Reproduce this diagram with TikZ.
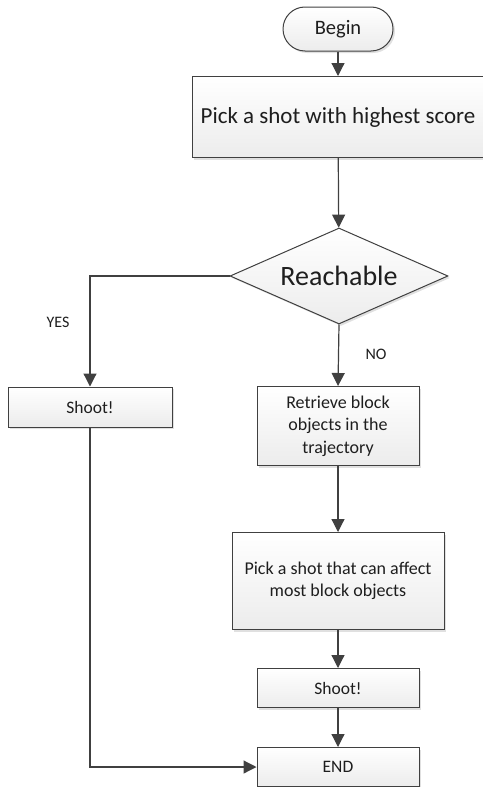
\documentclass[tikz,border=0pt]{standalone}
\usepackage{fontspec}
\setmainfont{Carlito}
\usepackage{tikz}
\usetikzlibrary{arrows.meta,positioning,shapes,shadows}
\definecolor{edgegray}{RGB}{64,64,64}
\definecolor{inkgray}{RGB}{30,30,30}
\definecolor{fillgray}{RGB}{236,236,236}

\begin{document}
\begin{tikzpicture}[
    x=1pt, y=-1pt,
    box/.style={draw=edgegray, line width=1pt, top color=white, bottom color=fillgray,
        drop shadow={shadow xshift=2pt, shadow yshift=-2pt, fill=black, opacity=0.12},
        inner sep=0pt, align=center, text=inkgray, font=\fontsize{#1}{22.5}\selectfont},
    box/.default=18,
    flow/.style={-{Triangle[width=13pt,length=13pt]}, draw=edgegray, line width=1.2pt},
    tag/.style={text=inkgray, font=\fontsize{16}{18}\selectfont},
]
\useasboundingbox (0,0) rectangle (482,787);

\node[box=20.5, rounded rectangle, minimum width=110pt, minimum height=44pt] (begin) at (338,29) {Begin};
\node[box=23, minimum width=292pt, minimum height=81pt] (best) at (338,117) {Pick a shot with highest score};
\node[box=28, diamond, shape aspect=2.27, minimum width=218pt, minimum height=96pt] (reach) at (339,276) {Reachable};

\node[box=17.5, minimum width=164pt, minimum height=40pt] (shootA) at (90,407) {Shoot!};
\node[box, minimum width=162pt, minimum height=79pt] (retrieve) at (338,426) {Retrieve block\\objects in the\\trajectory};
\node[box, minimum width=212pt, minimum height=97pt] (affect) at (338,581) {Pick a shot that can affect\\most block objects};
\node[box=17.5, minimum width=162pt, minimum height=39pt] (shootB) at (338,688) {Shoot!};
\node[box=17.5, minimum width=162pt, minimum height=39pt] (finish) at (338,767) {END};

\node[tag] (yes) at (58,322) {YES};
\node[tag] (no) at (376,354) {NO};

\draw[flow] (begin) -- (best);
\draw[flow] (best) -- (reach);
\draw[flow] (reach.west) -| (shootA.north);
\draw[flow] (reach.south) -- (retrieve.north);
\draw[flow] (retrieve) -- (affect);
\draw[flow] (affect) -- (shootB);
\draw[flow] (shootB) -- (finish);
\draw[flow] (shootA.south) |- (finish.west);
\end{tikzpicture}
\end{document}
